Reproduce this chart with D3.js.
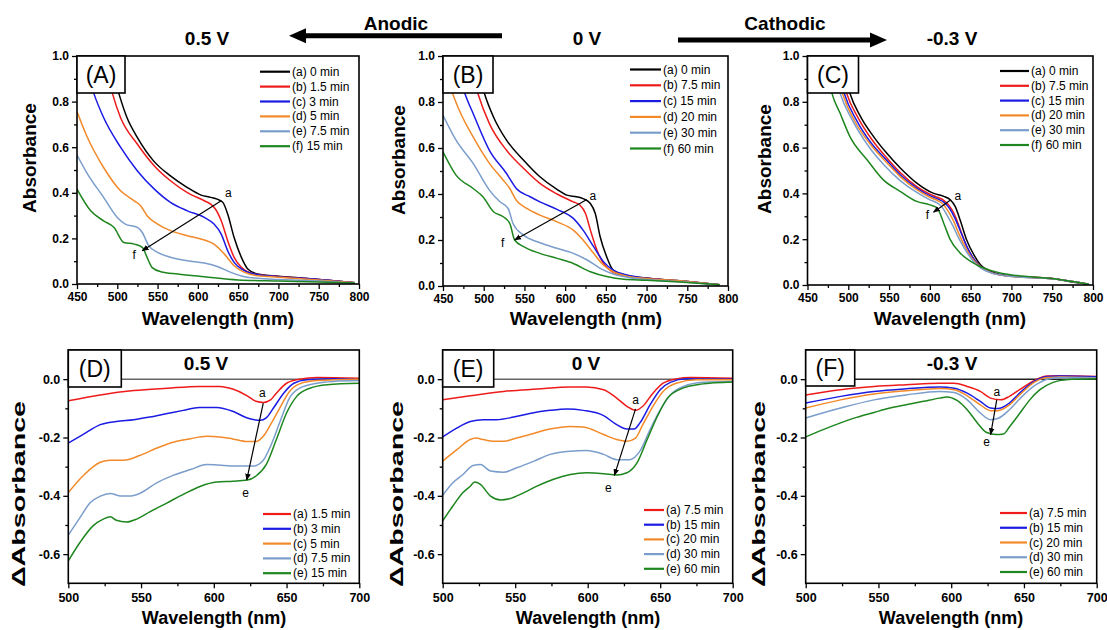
<!DOCTYPE html>
<html><head><meta charset="utf-8">
<script src="https://cdn.jsdelivr.net/npm/d3@7"></script>
<style>
body{margin:0;background:#fff}
text{font-family:Arial,"Liberation Sans",sans-serif}
</style>
</head><body><script>
// ---------- absorbance spectra, [wavelength nm, absorbance] ----------
// 0.5 V (anodic)
const A_0min   = [[488,1.02],[502,0.835],[512,0.73],[525,0.642],[545,0.54],[566,0.474],[587,0.423],[604,0.39],[616,0.38],[624,0.372],[631,0.358],[637,0.307],[645,0.204],[654,0.117],[662,0.066],[674,0.044],[700,0.034],[725,0.027],[750,0.02],[775,0.012],[795,0.005]];
const A_1_5min = [[481,1.02],[494,0.835],[504,0.73],[525,0.613],[546,0.518],[566,0.453],[587,0.401],[608,0.365],[616,0.35],[622,0.328],[629,0.277],[637,0.19],[645,0.117],[654,0.073],[666,0.047],[700,0.033],[750,0.02],[795,0.005]];
const A_3min   = [[456,1.02],[471,0.835],[483,0.73],[504,0.6],[525,0.496],[546,0.416],[566,0.358],[587,0.321],[608,0.292],[620,0.263],[629,0.219],[637,0.146],[645,0.095],[654,0.066],[666,0.047],[700,0.032],[750,0.02],[795,0.005]];
const A_5min   = [[450,0.756],[462,0.65],[483,0.511],[504,0.409],[521,0.365],[529,0.343],[537,0.299],[550,0.263],[566,0.234],[587,0.212],[608,0.193],[620,0.175],[633,0.131],[645,0.08],[658,0.051],[674,0.036],[700,0.03],[750,0.018],[795,0.005]];
const A_7_5min = [[450,0.566],[462,0.489],[483,0.38],[500,0.292],[510,0.263],[525,0.248],[531,0.226],[539,0.168],[550,0.139],[566,0.117],[587,0.102],[608,0.092],[625,0.076],[641,0.051],[658,0.032],[674,0.025],[700,0.02],[750,0.013],[795,0.004]];
const A_15min  = [[450,0.416],[467,0.321],[483,0.277],[496,0.248],[508,0.182],[521,0.175],[531,0.161],[537,0.117],[543,0.073],[554,0.054],[575,0.044],[608,0.032],[650,0.018],[700,0.013],[750,0.009],[795,0.004]];
// 0 V
const B_0min   = [[488,1.02],[501,0.836],[512,0.735],[528,0.634],[549,0.547],[569,0.475],[590,0.42],[602,0.395],[614,0.388],[622,0.38],[631,0.359],[637,0.315],[643,0.214],[651,0.127],[659,0.069],[676,0.045],[700,0.035],[750,0.02],[790,0.005]];
const B_7_5min = [[480,1.02],[493,0.836],[507,0.706],[528,0.59],[549,0.511],[569,0.446],[590,0.4],[610,0.366],[618,0.352],[625,0.315],[631,0.243],[639,0.156],[647,0.098],[655,0.069],[672,0.045],[700,0.034],[750,0.02],[790,0.005]];
const B_15min  = [[463,1.02],[477,0.836],[487,0.75],[507,0.59],[528,0.489],[540,0.424],[557,0.388],[569,0.366],[590,0.333],[610,0.294],[622,0.243],[635,0.171],[647,0.106],[659,0.069],[676,0.048],[700,0.034],[750,0.02],[790,0.005]];
const B_20min  = [[450,0.99],[462,0.836],[470,0.764],[487,0.648],[507,0.533],[524,0.46],[532,0.424],[540,0.373],[553,0.337],[569,0.308],[590,0.279],[610,0.243],[622,0.2],[635,0.142],[647,0.091],[659,0.062],[676,0.043],[700,0.033],[750,0.02],[790,0.005]];
const B_30min  = [[450,0.742],[466,0.634],[487,0.533],[507,0.417],[520,0.366],[530,0.337],[536,0.272],[549,0.221],[569,0.188],[590,0.164],[610,0.142],[627,0.113],[643,0.077],[659,0.052],[676,0.038],[700,0.028],[750,0.016],[790,0.004]];
const B_60min  = [[450,0.583],[466,0.482],[487,0.424],[499,0.388],[512,0.323],[524,0.301],[532,0.272],[538,0.2],[549,0.171],[569,0.142],[590,0.12],[610,0.098],[631,0.062],[651,0.041],[672,0.029],[700,0.025],[750,0.015],[790,0.005]];
// -0.3 V (cathodic)
const C_0min   = [[490,1.02],[502,0.837],[515,0.735],[531,0.648],[547,0.576],[564,0.51],[584,0.445],[604,0.401],[617,0.387],[625,0.372],[631,0.343],[637,0.285],[645,0.198],[654,0.132],[662,0.089],[674,0.06],[695,0.041],[720,0.035],[750,0.028],[775,0.013],[795,0.003]];
const C_7_5min = [[486,1.02],[498,0.837],[512,0.73],[530,0.63],[547,0.556],[564,0.49],[584,0.43],[600,0.397],[610,0.382],[617,0.37],[623,0.35],[630,0.31],[637,0.245],[645,0.17],[653,0.118],[662,0.082],[674,0.057],[695,0.04],[750,0.028],[795,0.003]];
const C_15min  = [[483,1.02],[495,0.837],[510,0.72],[528,0.62],[547,0.545],[564,0.48],[584,0.423],[600,0.39],[610,0.375],[617,0.362],[624,0.335],[631,0.29],[638,0.23],[646,0.163],[654,0.113],[662,0.08],[674,0.056],[695,0.04],[750,0.027],[795,0.003]];
const C_20min  = [[481,1.02],[493,0.837],[508,0.715],[528,0.61],[547,0.535],[564,0.472],[584,0.416],[600,0.383],[610,0.368],[616,0.354],[622,0.325],[629,0.28],[636,0.22],[645,0.155],[653,0.11],[662,0.078],[674,0.055],[695,0.039],[750,0.027],[795,0.003]];
const C_30min  = [[478,1.02],[490,0.837],[505,0.72],[525,0.605],[545,0.52],[564,0.455],[584,0.404],[600,0.372],[610,0.356],[615,0.34],[621,0.305],[628,0.26],[636,0.2],[645,0.145],[653,0.105],[662,0.075],[674,0.054],[695,0.039],[750,0.027],[795,0.003]];
const C_60min  = [[470,1.02],[480,0.837],[490,0.75],[502,0.648],[523,0.547],[543,0.459],[564,0.408],[584,0.365],[600,0.35],[609,0.336],[617,0.27],[625,0.198],[637,0.14],[650,0.103],[666,0.074],[686,0.052],[707,0.041],[750,0.028],[795,0.003]];

// ---------- difference spectra, [wavelength nm, ΔA] ----------
const D_1_5min = [[500,-0.074],[522,-0.054],[545,-0.039],[568,-0.031],[590,-0.025],[604,-0.025],[613,-0.034],[623,-0.057],[629,-0.076],[634,-0.08],[639,-0.071],[643,-0.048],[650,-0.014],[659,0],[671,0.006],[700,0.003]];
const D_3min   = [[500,-0.219],[510,-0.19],[522,-0.156],[533,-0.145],[545,-0.139],[556,-0.13],[568,-0.118],[579,-0.107],[590,-0.097],[602,-0.097],[613,-0.11],[623,-0.133],[632,-0.141],[636,-0.133],[641,-0.099],[648,-0.048],[655,-0.014],[664,-0.002],[682,0.001],[700,-0.002]];
const D_5min   = [[500,-0.389],[510,-0.332],[522,-0.285],[529,-0.278],[538,-0.278],[549,-0.262],[561,-0.236],[572,-0.216],[584,-0.204],[595,-0.196],[604,-0.198],[613,-0.205],[623,-0.214],[629,-0.214],[634,-0.196],[639,-0.156],[646,-0.093],[652,-0.042],[659,-0.016],[671,-0.005],[700,0]];
const D_7_5min = [[500,-0.535],[508,-0.475],[515,-0.424],[522,-0.401],[529,-0.392],[536,-0.401],[542,-0.401],[549,-0.392],[561,-0.355],[572,-0.33],[584,-0.31],[595,-0.293],[607,-0.296],[618,-0.298],[627,-0.298],[634,-0.278],[639,-0.23],[646,-0.139],[652,-0.065],[659,-0.031],[671,-0.014],[682,-0.008],[700,-0.005]];
const D_15min  = [[500,-0.623],[508,-0.56],[517,-0.503],[524,-0.48],[529,-0.472],[533,-0.484],[540,-0.49],[547,-0.48],[556,-0.455],[568,-0.424],[579,-0.395],[591,-0.367],[602,-0.353],[613,-0.35],[623,-0.346],[629,-0.332],[636,-0.293],[643,-0.207],[650,-0.116],[657,-0.059],[666,-0.031],[678,-0.019],[700,-0.014]];

const E_7_5min = [[500,-0.071],[519,-0.057],[542,-0.042],[565,-0.034],[588,-0.027],[599,-0.027],[611,-0.036],[620,-0.065],[627,-0.093],[633,-0.107],[638,-0.093],[645,-0.048],[652,-0.014],[661,0.001],[671,0.006],[700,0.003]];
const E_15min  = [[500,-0.198],[510,-0.167],[519,-0.145],[528,-0.139],[537,-0.139],[549,-0.13],[560,-0.118],[574,-0.107],[586,-0.102],[597,-0.107],[611,-0.125],[620,-0.156],[627,-0.171],[632,-0.171],[636,-0.15],[643,-0.088],[650,-0.036],[657,-0.011],[668,0.001],[700,0]];
const E_20min  = [[500,-0.281],[510,-0.241],[519,-0.207],[523,-0.202],[528,-0.207],[535,-0.213],[542,-0.213],[551,-0.202],[560,-0.19],[574,-0.171],[588,-0.162],[597,-0.164],[611,-0.19],[620,-0.207],[627,-0.213],[633,-0.202],[638,-0.156],[645,-0.093],[652,-0.042],[661,-0.014],[675,-0.002],[700,-0.002]];
const E_30min  = [[500,-0.398],[507,-0.355],[514,-0.327],[521,-0.296],[526,-0.293],[533,-0.315],[542,-0.319],[551,-0.304],[563,-0.281],[574,-0.258],[588,-0.247],[599,-0.245],[611,-0.258],[620,-0.276],[629,-0.276],[636,-0.247],[643,-0.173],[650,-0.105],[657,-0.054],[666,-0.025],[680,-0.011],[700,-0.008]];
const E_60min  = [[500,-0.486],[507,-0.435],[514,-0.389],[519,-0.367],[522,-0.353],[526,-0.361],[533,-0.401],[540,-0.414],[546,-0.41],[556,-0.389],[565,-0.367],[576,-0.344],[588,-0.327],[599,-0.321],[611,-0.324],[620,-0.329],[627,-0.321],[634,-0.287],[641,-0.207],[648,-0.128],[655,-0.065],[664,-0.034],[678,-0.017],[700,-0.01]];

const F_7_5min = [[500,-0.054],[524,-0.036],[547,-0.025],[569,-0.019],[592,-0.014],[602,-0.014],[611,-0.025],[620,-0.042],[627,-0.065],[634,-0.071],[640,-0.059],[647,-0.036],[657,-0.005],[666,0.011],[675,0.012],[700,0.009]];
const F_15min  = [[500,-0.082],[524,-0.059],[547,-0.042],[569,-0.033],[592,-0.027],[602,-0.031],[611,-0.048],[620,-0.076],[627,-0.099],[632,-0.101],[640,-0.082],[647,-0.048],[657,-0.008],[666,0.009],[675,0.011],[700,0.008]];
const F_20min  = [[500,-0.099],[524,-0.071],[547,-0.051],[569,-0.04],[592,-0.032],[602,-0.036],[611,-0.057],[620,-0.088],[627,-0.108],[632,-0.108],[640,-0.088],[647,-0.054],[657,-0.011],[666,0.006],[675,0.007],[700,0.005]];
const F_30min  = [[500,-0.133],[524,-0.099],[547,-0.071],[569,-0.054],[592,-0.042],[602,-0.046],[611,-0.071],[620,-0.116],[627,-0.139],[632,-0.135],[640,-0.105],[647,-0.068],[657,-0.023],[666,0],[675,0.006],[700,0.004]];
const F_60min  = [[500,-0.198],[512,-0.173],[524,-0.15],[535,-0.131],[547,-0.114],[558,-0.099],[569,-0.088],[581,-0.076],[592,-0.065],[597,-0.061],[604,-0.073],[611,-0.105],[618,-0.15],[624,-0.182],[631,-0.19],[636,-0.188],[640,-0.164],[647,-0.118],[654,-0.071],[661,-0.036],[670,-0.011],[679,-0.002],[700,0.001]];

// ---------- labels and ticks ----------
const legendA = ["(a) 0 min","(b) 1.5 min","(c) 3 min","(d) 5 min","(e) 7.5 min","(f) 15 min"];
const legendB = ["(a) 0 min","(b) 7.5 min","(c) 15 min","(d) 20 min","(e) 30 min","(f) 60 min"];
const legendC = legendB;
const legendD = ["(a) 1.5 min","(b) 3 min","(c) 5 min","(d) 7.5 min","(e) 15 min"];
const legendE = ["(a) 7.5 min","(b) 15 min","(c) 20 min","(d) 30 min","(e) 60 min"];
const legendF = legendE;
const xTicksTop = [450,500,550,600,650,700,750,800];
const xMinorTop = [475,525,575,625,675,725,775];
const yTicksTop = [0,0.2,0.4,0.6,0.8,1.0];
const yMinorTop = [0.1,0.3,0.5,0.7,0.9];
const xTicksBot = [500,550,600,650,700];
const xMinorBot = [525,575,625,675];
const yTicksBot = [-0.6,-0.4,-0.2,0.0];
const yMinorBot = [-0.5,-0.3,-0.1];

const col6 = ["#000000","#ee1b1b","#1b1be3","#f28a2a","#7b9dcb","#1e861e"];
const col5 = col6.slice(1);

const svg = d3.select("body").append("svg").attr("width",1107).attr("height",630);
const defs = svg.append("defs");
defs.append("marker").attr("id","head").attr("viewBox","0 0 10 10")
  .attr("refX",9).attr("refY",5).attr("markerWidth",7).attr("markerHeight",7)
  .attr("markerUnits","userSpaceOnUse").attr("orient","auto")
  .append("path").attr("d","M0,1 L10,5 L0,9 Z").attr("fill","#000");

function drawPanel(p){
  const x = d3.scaleLinear().domain(p.xd).range([p.l,p.r]);
  const y = d3.scaleLinear().domain(p.yd).range([p.b,p.t]);
  const g = svg.append("g");
  defs.append("clipPath").attr("id","clip"+p.id).append("rect")
    .attr("x",p.l).attr("y",p.t).attr("width",p.r-p.l).attr("height",p.b-p.t);

  const styleAxis = s => {
    s.select(".domain").remove();
    s.selectAll(".tick line").attr("stroke","#000").attr("stroke-width",1.3);
    s.selectAll(".tick text").attr("fill","#000").attr("font-weight","bold")
      .attr("font-size",p.tfs).attr("font-family",'Arial,"Liberation Sans",sans-serif');
  };
  g.append("g").attr("transform",`translate(0,${p.b})`)
    .call(d3.axisBottom(x).tickValues(p.xt).tickSize(5).tickPadding(p.xpad).tickFormat(d=>d)).call(styleAxis);
  g.append("g").attr("transform",`translate(0,${p.b})`)
    .call(d3.axisBottom(x).tickValues(p.xm).tickSize(3).tickFormat("")).call(styleAxis);
  g.append("g").attr("transform",`translate(${p.l},0)`)
    .call(d3.axisLeft(y).tickValues(p.yt).tickSize(5).tickPadding(p.ypad).tickFormat(d=>Math.abs(d)<1e-9?"0.0":d.toFixed(1))).call(styleAxis);
  g.append("g").attr("transform",`translate(${p.l},0)`)
    .call(d3.axisLeft(y).tickValues(p.ym).tickSize(3).tickFormat("")).call(styleAxis);

  const plot = g.append("g").attr("clip-path",`url(#clip${p.id})`);
  if(p.zero){
    plot.append("line").attr("x1",p.l).attr("x2",p.r).attr("y1",y(0)).attr("y2",y(0))
      .attr("stroke",p.zero).attr("stroke-width",1.5);
  }
  const line = d3.line().x(d=>x(d[0])).y(d=>y(d[1])).curve(d3.curveMonotoneX);
  p.series.forEach((s,i)=>{
    plot.append("path").attr("d",line(s)).attr("fill","none")
      .attr("stroke",p.colors[i]).attr("stroke-width",1.5).attr("stroke-linejoin","round");
  });

  // change-direction arrow with end labels
  g.append("line").attr("x1",x(p.arrow[0][0])).attr("y1",y(p.arrow[0][1]))
    .attr("x2",x(p.arrow[1][0])).attr("y2",y(p.arrow[1][1]))
    .attr("stroke","#000").attr("stroke-width",1.2).attr("marker-end","url(#head)");
  p.arrowLab.forEach((t,i)=>{
    g.append("text").attr("x",x(p.arrow[i][0])+p.labOff[i][0]).attr("y",y(p.arrow[i][1])+p.labOff[i][1])
      .attr("text-anchor","middle").attr("dominant-baseline","central").attr("font-size",12).text(t);
  });

  // frame
  g.append("rect").attr("x",p.l).attr("y",p.t).attr("width",p.r-p.l).attr("height",p.b-p.t)
    .attr("fill","none").attr("stroke","#000").attr("stroke-width",1.6);
  // panel letter box
  g.append("rect").attr("x",p.l).attr("y",p.t).attr("width",p.bw).attr("height",p.bh)
    .attr("fill","#fff").attr("stroke","#000").attr("stroke-width",1.6);
  g.append("text").attr("x",p.l+p.bw/2).attr("y",p.t+p.bh/2).attr("text-anchor","middle")
    .attr("dominant-baseline","central").attr("font-size",23).text(p.letter);

  // legend
  p.legend.forEach((t,i)=>{
    const ly = p.leg.y + i*p.leg.dy;
    g.append("line").attr("x1",p.leg.x1).attr("x2",p.leg.x2).attr("y1",ly).attr("y2",ly)
      .attr("stroke",p.colors[i]).attr("stroke-width",2.2);
    g.append("text").attr("x",p.leg.x2+2).attr("y",ly).attr("dominant-baseline","central")
      .attr("font-size",12).text(t);
  });

  // axis titles
  g.append("text").attr("x",p.xtitle[0]).attr("y",p.xtitle[1]).attr("text-anchor","middle")
    .attr("font-weight","bold").attr("font-size",p.xtfs).text("Wavelength (nm)");
  const yt = g.append("text").attr("transform",`translate(${p.ytitle[0]},${p.ytitle[1]}) rotate(-90)`)
    .attr("text-anchor","middle").attr("font-weight","bold").attr("font-size",p.ytfs).text(p.ylab);
  if(p.ylen) yt.attr("textLength",p.ylen).attr("lengthAdjust","spacingAndGlyphs");
  if(p.volt){
    g.append("text").attr("x",p.volt[0]).attr("y",p.volt[1]).attr("text-anchor","middle")
      .attr("font-weight","bold").attr("font-size",19).text(p.volt[2]);
  }
}

const topCfg = {xd:[450,800], yd:[0,1], xt:xTicksTop, xm:xMinorTop, yt:yTicksTop, ym:yMinorTop,
  tfs:12, xpad:3, ypad:3, xtfs:19, ytfs:19, ylab:"Absorbance", colors:col6};
const botCfg = {xd:[500,700], yd:[-0.7,0.1], xt:xTicksBot, xm:xMinorBot, yt:yTicksBot, ym:yMinorBot,
  tfs:12.5, xpad:5, ypad:3, xtfs:18, ytfs:19, ylab:"\u0394Absorbance", ylen:186, colors:col5, zero:"#666"};

drawPanel({...topCfg, id:"A", l:77, r:359, t:56, b:284, letter:"(A)", bw:48, bh:37,
  series:[A_0min,A_1_5min,A_3min,A_5min,A_7_5min,A_15min], legend:legendA,
  leg:{x1:260,x2:290,y:71.7,dy:14.9}, arrow:[[629,0.365],[531,0.146]], arrowLab:["a","f"],
  labOff:[[7,-8],[-8,4]], xtitle:[218,325], ytitle:[36,158]});
drawPanel({...topCfg, id:"B", l:443, r:728, t:56, b:286, letter:"(B)", bw:50, bh:37,
  series:[B_0min,B_7_5min,B_15min,B_20min,B_30min,B_60min], legend:legendB,
  leg:{x1:630,x2:661,y:69.5,dy:15.8}, arrow:[[626.7,0.376],[538,0.2]], arrowLab:["a","f"],
  labOff:[[6,-4],[-12,3]], xtitle:[586,325], ytitle:[405,160]});
drawPanel({...topCfg, id:"C", l:807.5, r:1093, t:56, b:285, letter:"(C)", bw:51, bh:37,
  series:[C_0min,C_7_5min,C_15min,C_20min,C_30min,C_60min], legend:legendC,
  leg:{x1:1000,x2:1029,y:71,dy:14.8}, arrow:[[625.8,0.372],[604.5,0.318]], arrowLab:["a","f"],
  labOff:[[7,-4],[-6,3]], xtitle:[950,325], ytitle:[771,159]});

drawPanel({...botCfg, id:"D", l:68.3, r:359.3, t:350, b:583.3, letter:"(D)", bw:53, bh:37,
  series:[D_1_5min,D_3min,D_5min,D_7_5min,D_15min], legend:legendD,
  leg:{x1:263,x2:291,y:514,dy:14.8}, arrow:[[634,-0.082],[622.6,-0.346]], arrowLab:["a","e"],
  labOff:[[-1,-10],[-1,13]], xtitle:[214,624], ytitle:[25,494], volt:[206,370,"0.5 V"]});
drawPanel({...botCfg, id:"E", l:442.7, r:732.7, t:350, b:583.3, letter:"(E)", bw:51, bh:37,
  series:[E_7_5min,E_15min,E_20min,E_30min,E_60min], legend:legendE,
  leg:{x1:644,x2:664,y:510,dy:14.7}, arrow:[[633,-0.102],[618.4,-0.33]], arrowLab:["a","e"],
  labOff:[[0,-9],[-6,13]], xtitle:[588,624], ytitle:[403,494], volt:[586,370,"0 V"]});
drawPanel({...botCfg, id:"F", l:805.7, r:1096.7, t:350, b:583.3, letter:"(F)", bw:49, bh:36,
  series:[F_7_5min,F_15min,F_20min,F_30min,F_60min], legend:legendF,
  leg:{x1:1000,x2:1027,y:513,dy:14.75}, arrow:[[631.3,-0.071],[627.1,-0.19]], arrowLab:["a","e"],
  labOff:[[0,-8],[-4,7]], xtitle:[951,624], ytitle:[765,494], volt:[952,370,"-0.3 V"], zero:"#222"});

// header: potentials and sweep direction arrows
const hdr = svg.append("g");
[[207,45,"0.5 V"],[587,45,"0 V"],[952,45,"-0.3 V"]].forEach(d=>{
  hdr.append("text").attr("x",d[0]).attr("y",d[1]).attr("text-anchor","middle")
    .attr("font-weight","bold").attr("font-size",19).text(d[2]);
});
hdr.append("text").attr("x",396).attr("y",30).attr("text-anchor","middle").attr("font-weight","bold").attr("font-size",19).text("Anodic");
hdr.append("text").attr("x",785).attr("y",30).attr("text-anchor","middle").attr("font-weight","bold").attr("font-size",19).text("Cathodic");
function bigArrow(x0,x1,yy){
  const dir = Math.sign(x1-x0), hl=17, hw=7.5;
  hdr.append("line").attr("x1",x0).attr("x2",x1-dir*hl+dir).attr("y1",yy).attr("y2",yy)
    .attr("stroke","#000").attr("stroke-width",5);
  hdr.append("path").attr("d",`M${x1},${yy} L${x1-dir*hl},${yy-hw} L${x1-dir*hl},${yy+hw} Z`).attr("fill","#000");
}
bigArrow(502,289,35.7);
bigArrow(678,887,40);
</script></body></html>
